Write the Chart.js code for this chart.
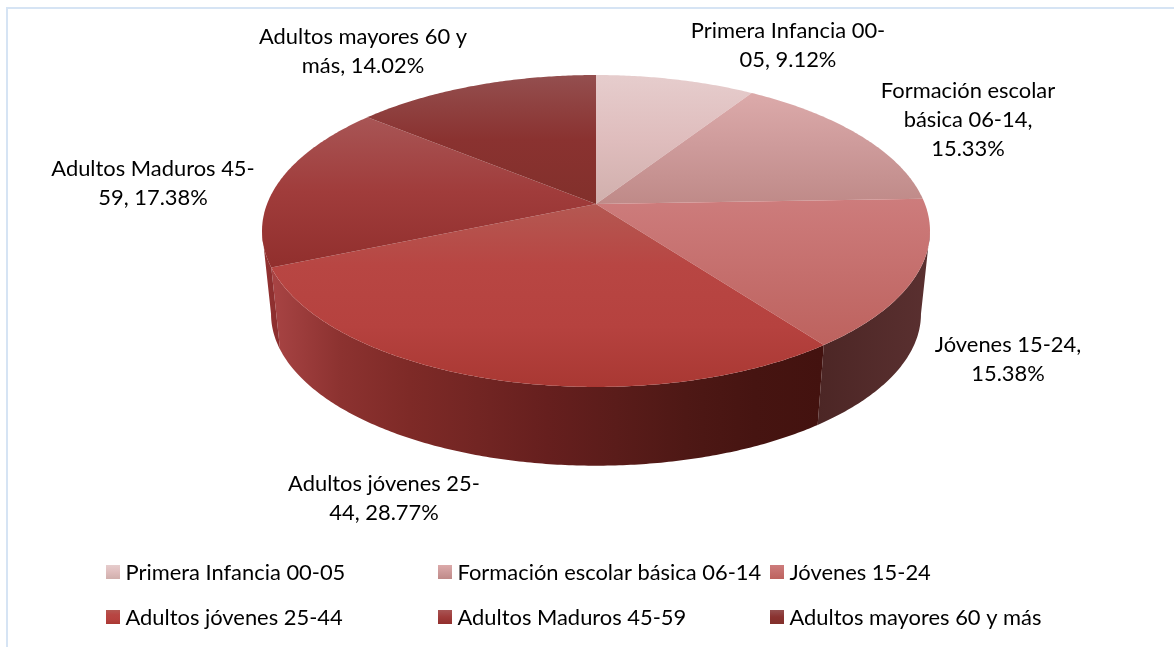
<!DOCTYPE html>
<html>
<head>
<meta charset="utf-8">
<style>
  html, body { margin: 0; padding: 0; background: #fff; overflow: hidden; }
  #frame { position: absolute; left: 6px; top: 7px; width: 1170px; height: 645px; border-left: 2px solid #d6e4f4; border-top: 2px solid #d6e4f4; }
  canvas { position: absolute; left: 0; top: 0; }
</style>
<script src="https://cdn.jsdelivr.net/npm/chart.js@4"></script>
</head>
<body>
<div id="frame"></div>
<canvas id="pieChart" width="1174" height="647"></canvas>
<script>
const categorias = ['Primera Infancia 00-05', 'Formación escolar básica 06-14', 'Jóvenes 15-24', 'Adultos jóvenes 25-44', 'Adultos Maduros 45-59', 'Adultos mayores 60 y más']
const porcentajes = [9.12, 15.33, 15.38, 28.77, 17.38, 14.02]

// etiquetas tal como quedan partidas en el original
const etiquetas = [
  ['Primera Infancia 00-', '05, 9.12%'],
  ['Formación escolar', 'básica 06-14,', '15.33%'],
  ['Jóvenes 15-24,', '15.38%'],
  ['Adultos jóvenes 25-', '44, 28.77%'],
  ['Adultos Maduros 45-', '59, 17.38%'],
  ['Adultos mayores 60 y', 'más, 14.02%']
]
const etiquetasX = [788, 968, 1008, 384, 153, 363]
const etiquetasY = [31, 91, 345, 484, 169, 37]
const interlinea = 29

const tonos = [
  ['#e6cdcd', '#dfbdbd', '#d0afac'],
  ['#dcaaaa', '#cd9a9a', '#bf8a88'],
  ['#cd7c7c', '#bd625e'],
  ['#b45852', '#b84643', '#b6423f', '#a93833'],
  ['#a85555', '#a03c3b', '#912f2d'],
  ['#944f4f', '#8a3230', '#82302b']
]
const tonosPared = [
  null,
  null,
  ['#4c2625', '#5a3030'],
  ['#a84444', '#8c3230', '#7e2a27', '#722523', '#661f1e', '#5a1c1a', '#4e1815', '#461411', '#43120f'],
  ['#923232', '#8c2e2e'],
  null
]

const leyendaX = [106, 438, 770, 106, 438, 770]
const leyendaY = [565, 565, 565, 610, 610, 610]

// perspectiva del disco, en relación al radio del arco
const ESCALA_X = 2.55
const ESCALA_Y = 1.173
const FUGA = 0.173
const ALTO = 0.643
const MERMA = 0.973
const CENTRO_ELIPSE = 0.209

function proyectar (arc, a) {
  const w = 1 - FUGA * Math.sin(a)
  return {
    x: arc.x + arc.outerRadius * ESCALA_X * Math.cos(a) / w,
    y: arc.y + arc.outerRadius * ESCALA_Y * Math.sin(a) / w
  }
}

function borde (arc, ini, fin) {
  const pasos = Math.max(2, Math.ceil((fin - ini) / 0.01))
  const puntos = []
  for (let i = 0; i <= pasos; i++) puntos.push(proyectar(arc, ini + (fin - ini) * i / pasos))
  return puntos
}

function abajo (arc, p) {
  const cy = arc.y + arc.outerRadius * CENTRO_ELIPSE
  return {
    x: arc.x + (p.x - arc.x) * MERMA,
    y: cy + arc.outerRadius * ALTO + (p.y - cy) * MERMA
  }
}

function degradado (ctx, x0, y0, x1, y1, colores) {
  const g = ctx.createLinearGradient(x0, y0, x1, y1)
  colores.forEach((c, i) => g.addColorStop(i / (colores.length - 1), c))
  return g
}

const pie3d = {
  id: 'pie3d',
  beforeDatasetDraw (chart) {
    const ctx = chart.ctx
    const arcos = chart.getDatasetMeta(0).data
    // la pared visible termina donde el borde del disco es tangente
    const tangente = Math.asin(FUGA)
    ctx.save()
    arcos.forEach((arc, i) => {
      if (!tonosPared[i]) return
      const ini = Math.max(arc.startAngle, tangente)
      const fin = Math.min(arc.endAngle, Math.PI - tangente)
      const arriba = borde(arc, ini, fin)
      const base = arriba.map(p => abajo(arc, p)).reverse()
      const contorno = arriba.concat(base)
      const xs = contorno.map(p => p.x)
      ctx.beginPath()
      contorno.forEach((p, j) => j ? ctx.lineTo(p.x, p.y) : ctx.moveTo(p.x, p.y))
      ctx.closePath()
      ctx.fillStyle = degradado(ctx, Math.min(...xs), 0, Math.max(...xs), 0, tonosPared[i])
      ctx.fill()
    })
    // cara superior
    arcos.forEach((arc, i) => {
      const puntos = borde(arc, arc.startAngle, arc.endAngle)
      const ys = puntos.map(p => p.y).concat(arc.y)
      ctx.beginPath()
      ctx.moveTo(arc.x, arc.y)
      puntos.forEach(p => ctx.lineTo(p.x, p.y))
      ctx.closePath()
      ctx.fillStyle = degradado(ctx, 0, Math.min(...ys), 0, Math.max(...ys), tonos[i])
      ctx.fill()
    })
    ctx.restore()
    return false
  },
  afterDraw (chart) {
    const ctx = chart.ctx
    ctx.save()
    ctx.fillStyle = '#000'
    ctx.font = '21.9px Lato'
    ctx.textBaseline = 'middle'
    ctx.textAlign = 'center'
    etiquetas.forEach((lineas, i) => {
      lineas.forEach((t, j) => ctx.fillText(t, etiquetasX[i], etiquetasY[i] + j * interlinea))
    })
    ctx.textAlign = 'left'
    chart.data.labels.forEach((t, i) => {
      const x = leyendaX[i]
      const y = leyendaY[i]
      ctx.fillStyle = degradado(ctx, 0, y, 0, y + 14, tonos[i])
      ctx.fillRect(x, y, 14, 14)
      ctx.fillStyle = '#000'
      ctx.fillText(t, x + 19.5, y + 8)
    })
    ctx.restore()
  }
}

new Chart(document.getElementById('pieChart'), {
  type: 'pie',
  data: {
    labels: categorias,
    datasets: [{ data: porcentajes, borderWidth: 0 }]
  },
  options: {
    responsive: false,
    animation: false,
    layout: { padding: { left: 467, right: 449, top: 75, bottom: 314 } },
    plugins: {
      legend: { display: false },
      tooltip: { enabled: false }
    }
  },
  plugins: [pie3d]
})
</script>
</body>
</html>
